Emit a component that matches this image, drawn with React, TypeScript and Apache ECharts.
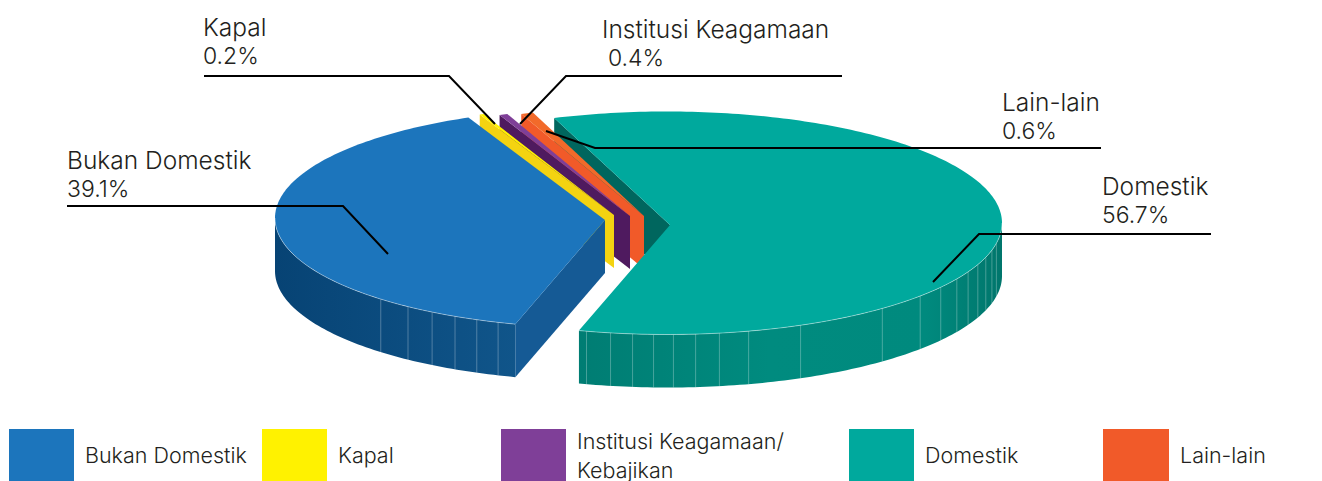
import React, { useEffect, useRef } from "react";
import * as echarts from "echarts";

const categories = ["Bukan Domestik", "Kapal", "Institusi Keagamaan", "Lain-lain", "Domestik"];
const legendNames = ["Bukan Domestik", "Kapal", "Institusi Keagamaan/\nKebajikan", "Domestik", "Lain-lain"];
const shares = [39.1, 0.2, 0.4, 0.6, 56.7];

const FONT = "Inter";
const WEIGHT = 300;
const TOP = ["#1c75bc", "#fff200", "#7f3f98", "#f26a2a", "#00a99d"];
const LEGEND_COLOR: Record<string, string> = {
  "Bukan Domestik": "#1c75bc",
  Kapal: "#fff200",
  "Institusi Keagamaan/\nKebajikan": "#7f3f98",
  Domestik: "#00a99d",
  "Lain-lain": "#f15a29",
};
const CUT = ["#155a95", "#f4d311", "#4f1a5f", "#f15a29", "#00665e"];
const APEX = [[605, 220], [614, 215], [630, 216], [644, 216], [670, 225]];
const CENTER = [[601, 218], [614, 215], [630, 216], [644, 216], [667, 223]];
const RX = [326, 330, 330, 330, 335];
const RY = [110, 110, 110, 110, 111.5];
const DEPTH = 53;
const END_BLUE = 336;
const OUTER = [
  { type: "linear", x: 0, y: 0, x2: 1, y2: 0, colorStops: [{ offset: 0, color: "#074374" }, { offset: 1, color: "#10558a" }] },
  null, null, null,
  { type: "linear", x: 0, y: 0, x2: 1, y2: 0, colorStops: [{ offset: 0, color: "#007d73" }, { offset: 0.45, color: "#008b7f" }, { offset: 0.82, color: "#008a7e" }, { offset: 1, color: "#00766c" }] },
];
const FACETS: number[][] = [
  [222.5, 216.3, 211.2, 206.6, 202.4, 198.4], [], [], [],
  [193.9, 189.7, 185.9, 182.3, 178.9, 175.1, 171, 165.9, 156.5, 140, 130.9, 125.2, 120.1, 116, 111.9, 107.9, 104.1, 100.5],
];

// Sweep of each slice: 3.6 degrees per percent; the last slice closes the circle
function sliceAngles() {
  const out: [number, number][] = [];
  let a = END_BLUE - shares[0] * 3.6;
  const first = a;
  shares.forEach((s, i) => {
    const b = i === shares.length - 1 ? first + 360 : a + s * 3.6;
    out.push([a, b]);
    a = b;
  });
  return out;
}
const ANGLES = sliceAngles();

function pt(i: number, deg: number, dy = 0) {
  const t = (deg * Math.PI) / 180;
  return [CENTER[i][0] + RX[i] * Math.sin(t), CENTER[i][1] - RY[i] * Math.cos(t) + dy];
}
function arc(i: number, a: number, b: number, dy = 0) {
  const n = Math.max(1, Math.ceil(Math.abs(b - a)));
  const p: number[][] = [];
  for (let k = 0; k <= n; k++) p.push(pt(i, a + ((b - a) * k) / n, dy));
  return p;
}

function renderSlice(i: number, part: string) {
  const [a, b] = ANGLES[i];
  const ax = APEX[i][0];
  const ay = APEX[i][1];
  const children: any[] = [];
  if (part !== "face") {
    const c = pt(i, a);
    children.push({
      type: "polygon",
      shape: { points: [[ax, ay], c, [c[0], c[1] + DEPTH], [ax, ay + DEPTH]] },
      style: { fill: CUT[i] },
    });
  }
  if (part === "wall") return { type: "group", children };
  // outer rim: only the front half of the ellipse (90..270 degrees) can be seen
  const lo = b > 450 ? 450 : Math.max(a, 90);
  const hi = b > 450 ? b : Math.min(b, 270);
  const hasRim = !!OUTER[i] && hi > lo;
  if (hasRim) {
    const front = arc(i, lo, hi);
    const back = arc(i, hi, lo, DEPTH);
    children.push({
      type: "polygon",
      shape: { points: front.concat(back) },
      style: { fill: OUTER[i] },
    });
    FACETS[i].forEach((d) => {
      const p = pt(i, d);
      children.push({
        type: "line",
        shape: { x1: p[0], y1: p[1], x2: p[0], y2: p[1] + DEPTH },
        style: { stroke: "rgba(255,255,255,0.28)", lineWidth: 1 },
      });
    });
  }
  children.push({
    type: "polygon",
    shape: { points: [[ax, ay], ...arc(i, a, b)] },
    style: { fill: TOP[i] },
  });
  if (hasRim) {
    children.push({
      type: "polyline",
      shape: { points: arc(i, lo, hi) },
      style: { stroke: "rgba(255,255,255,0.4)", lineWidth: 1, fill: "none" },
    });
  }
  return { type: "group", children };
}

const LABELS = [
  { cat: 0, x: 67, y: 160, lead: [[67, 206], [343, 206], [388, 254]] },
  { cat: 1, x: 203, y: 27, lead: [[204, 76], [449, 76], [495, 124]] },
  { cat: 2, x: 602, y: 29, lead: [[842, 76], [566, 76], [520, 124]], indent: 6 },
  { cat: 3, x: 1002, y: 102, lead: [[1101, 148], [595, 148], [546, 131]] },
  { cat: 4, x: 1102, y: 186, lead: [[1211, 234], [979, 234], [933, 282]] },
];
const LEGEND_X = [9, 262, 501, 849, 1103];
const LEGEND_W = [65, 65, 65, 65, 66];
// back-to-front painting order: [slice, part]
const DRAW: [number, string][] = [[4, "wall"], [3, "all"], [2, "all"], [1, "all"], [4, "face"], [0, "all"]];

export default function App() {
  const ref = useRef<HTMLDivElement>(null);
  useEffect(() => {
    document.body.style.margin = "0";
    const chart = echarts.init(ref.current!, undefined, { renderer: "svg" });
    const graphic: any[] = [];
    LABELS.forEach((l) => {
      graphic.push({
        type: "polyline",
        z: 50,
        shape: { points: l.lead },
        style: { stroke: "#000", lineWidth: 2, fill: "none" },
      });
      graphic.push({
        type: "text",
        z: 50,
        x: l.x,
        y: l.y,
        style: { text: categories[l.cat], font: `${WEIGHT} 24.5px ${FONT}`, fill: "#231f20", textVerticalAlign: "middle" },
      });
      graphic.push({
        type: "text",
        z: 50,
        x: l.x + (l.indent || 0),
        y: l.y + 29,
        style: { text: `${shares[l.cat]}%`, font: `${WEIGHT} 23px ${FONT}`, fill: "#231f20", textVerticalAlign: "middle" },
      });
    });
    chart.setOption({
      animation: false,
      graphic,
      legend: legendNames.map((name, i) => ({
        data: [name],
        left: LEGEND_X[i],
        top: i === 2 ? 424 : 429,
        orient: "horizontal",
        padding: 0,
        icon: "rect",
        itemWidth: LEGEND_W[i],
        itemHeight: 52,
        selectedMode: false,
        itemStyle: { color: LEGEND_COLOR[name], borderWidth: 0 },
        textStyle: { fontFamily: FONT, fontWeight: WEIGHT, fontSize: 21.5, lineHeight: 29, color: "#231f20", padding: [4, 0, 0, 6] },
      })),
      series: DRAW.map(([i, part], k) => ({
        type: "custom",
        id: `slice-${k}`,
        z: 2 + k,
        name: categories[i] === "Institusi Keagamaan" ? legendNames[2] : categories[i],
        coordinateSystem: "none",
        silent: true,
        clip: false,
        itemStyle: { color: TOP[i] },
        data: [[shares[i]]],
        renderItem: () => renderSlice(i, part),
      })),
    });
    return () => chart.dispose();
  }, []);
  return <div ref={ref} style={{ position: "absolute", left: 0, top: 0, width: 1322, height: 481 }} />;
}
